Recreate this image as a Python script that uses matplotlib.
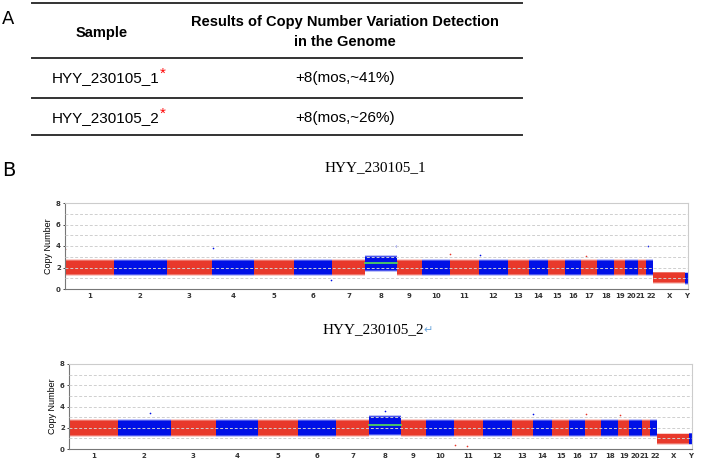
import matplotlib.pyplot as plt
import numpy as np
from matplotlib.lines import Line2D
from matplotlib.transforms import ScaledTranslation

# Table (panel A)
table_header = ['Sample', 'Results of Copy Number Variation Detection\nin the Genome']
samples = ['HYY_230105_1', 'HYY_230105_2']
results = ['+8(mos,~41%)', '+8(mos,~26%)']

# Chromosomes and approximate bin counts (widths)
chroms = ['1', '2', '3', '4', '5', '6', '7', '8', '9', '10', '11', '12', '13', '14',
          '15', '16', '17', '18', '19', '20', '21', '22', 'X', 'Y']
chrom_bins = [49, 53, 45, 43, 40, 38, 33, 32, 25, 28, 29, 29, 21, 20,
              17, 16, 16, 17, 11, 13, 8, 7, 32, 3]

# Copy number level per chromosome (median) for each sample
level_1 = [2, 2, 2, 2, 2, 2, 2, 2.4, 2, 2, 2, 2, 2, 2, 2, 2, 2, 2, 2, 2, 2, 2, 1.05, 1.0]
level_2 = [2, 2, 2, 2, 2, 2, 2, 2.25, 2, 2, 2, 2, 2, 2, 2, 2, 2, 2, 2, 2, 2, 2, 0.95, 0.95]
# half-width of the dense cloud and of the sparse fringe around the level
core_1 = [0.58] * 22 + [0.42, 0.45]
fringe_1 = [0.75] * 22 + [0.55, 0.6]
core_1[7], fringe_1[7] = 0.62, 0.8
core_2 = [0.65] * 22 + [0.42, 0.45]
fringe_2 = [0.85] * 22 + [0.58, 0.6]
core_2[7], fringe_2[7] = 0.8, 0.98

# a few stray points: (chrom index, position in chrom, value)
outliers_1 = [(0, 0.01, 3.7), (3, 0.03, 3.8), (7, 0.97, 4.0), (10, 0.02, 3.3),
              (21, 0.3, 4.0), (5, 0.97, 0.8), (11, 0.05, 3.2), (16, 0.3, 3.1)]
outliers_2 = [(10, 0.05, 0.4), (10, 0.45, 0.3), (13, 0.02, 3.3), (16, 0.05, 3.3),
              (1, 0.6, 3.4), (18, 0.2, 3.2), (7, 0.5, 3.6)]

red = '#e8392b'
blue = '#0010e6'
green = '#55e055'

fig = plt.figure(figsize=(7.04, 4.59), dpi=100)

# overlay axes in pixel coordinates for the table and panel letters
ov = fig.add_axes([0, 0, 1, 1])
ov.set_xlim(0, 704)
ov.set_ylim(459, 0)
ov.axis('off')

for y in [3, 58, 98, 135]:
    ov.add_line(Line2D([32, 522], [y, y], color='#333333', lw=1.4))

sans = ['Liberation Sans']
ov.text(8, 19, 'A', fontsize=13, family='DejaVu Sans', ha='center', va='center')
ov.text(9, 170, 'B', fontsize=14, family='DejaVu Sans', ha='center', va='center')
ov.text(102, 33, table_header[0], fontsize=10.5, weight='bold', family=sans,
        ha='center', va='center')
ov.text(345, 32, table_header[1], fontsize=10.5, weight='bold', family=sans,
        ha='center', va='center', linespacing=1.6)
for i, (s, r) in enumerate(zip(samples, results)):
    y = 78 + i * 40
    t = ov.text(52, y, s, fontsize=11, family=sans, ha='left', va='center')
    ov.annotate('*', xy=(1, 0.8), xycoords=t, fontsize=11, color='red',
                family=sans, ha='left', va='center')
    ov.text(345, y, r, fontsize=11, family=sans, ha='center', va='center')

serif = ['Liberation Serif', 'DejaVu Sans']
ov.text(375, 168, 'HYY_230105_1', fontsize=11, family=serif, ha='center', va='center')
t2 = ov.text(373, 330, 'HYY_230105_2', fontsize=11, family=serif, ha='center', va='center')
ov.annotate('\u21b5', xy=(1, 0.5), xycoords=t2, fontsize=8, color='#6fa8dc',
            family='DejaVu Sans', ha='left', va='center')

starts = np.concatenate([[0], np.cumsum(chrom_bins)[:-1]])
centers = starts + np.array(chrom_bins) / 2
total = sum(chrom_bins)


def cnv_plot(rect, levels, core, fringe, outliers):
    ax = fig.add_axes(rect)
    for i in range(len(chroms)):
        c = red if i % 2 == 0 else blue
        mid = (core[i] + fringe[i]) / 2
        # fuzzy edges: outer fringe, middle, dense core
        ax.bar(starts[i], 2 * fringe[i], bottom=levels[i] - fringe[i],
               width=chrom_bins[i], align='edge', color=c, alpha=0.25, lw=0)
        ax.bar(starts[i], 2 * mid, bottom=levels[i] - mid,
               width=chrom_bins[i], align='edge', color=c, alpha=0.6, lw=0)
        ax.bar(starts[i], 2 * core[i], bottom=levels[i] - core[i],
               width=chrom_bins[i], align='edge', color=c, lw=0)
    # segment line on the mosaic chromosome 8
    ax.plot([starts[7], starts[7] + chrom_bins[7]], [levels[7], levels[7]],
            color=green, lw=1.2, zorder=4)
    for ci, f, v in outliers:
        c = red if ci % 2 == 0 else blue
        ax.plot(starts[ci] + f * chrom_bins[ci], v, 'o', ms=1.2, color=c, mew=0)
    for g in range(1, 8):
        ax.axhline(g, color='#cfcfcf', ls=(0, (3, 2)), lw=0.7, zorder=3)
    ax.set_xlim(0, total)
    ax.set_ylim(0, 8)
    ax.set_yticks([0, 2, 4, 6, 8])
    ax.set_xticks(centers)
    ax.set_xticklabels(chroms)
    ax.tick_params(axis='x', length=0, labelsize=5, pad=3)
    ax.tick_params(axis='y', length=1.5, labelsize=5, pad=1.5, width=0.5)
    for lab in ax.get_yticklabels() + ax.get_xticklabels():
        lab.set_fontweight('bold')
        lab.set_color('#333333')
    # chromosomes 21 and 22 sit very close, nudge their labels apart
    xl = ax.get_xticklabels()
    xl[20].set_transform(xl[20].get_transform() + ScaledTranslation(-1.2 / 72, 0, fig.dpi_scale_trans))
    xl[21].set_transform(xl[21].get_transform() + ScaledTranslation(1.2 / 72, 0, fig.dpi_scale_trans))
    ax.set_ylabel('Copy Number', fontsize=6.5, family='Liberation Sans', labelpad=2)
    ax.spines['left'].set_color('#777777')
    ax.spines['bottom'].set_color('#777777')
    ax.spines['top'].set_color('#cccccc')
    ax.spines['right'].set_color('#cccccc')
    for s in ax.spines.values():
        s.set_linewidth(0.8)
    return ax


cnv_plot([65 / 704, 1 - 289 / 459, 623 / 704, 86 / 459], level_1, core_1, fringe_1, outliers_1)
cnv_plot([69 / 704, 1 - 449 / 459, 623 / 704, 85 / 459], level_2, core_2, fringe_2, outliers_2)

fig.savefig('out.png', dpi=100)
